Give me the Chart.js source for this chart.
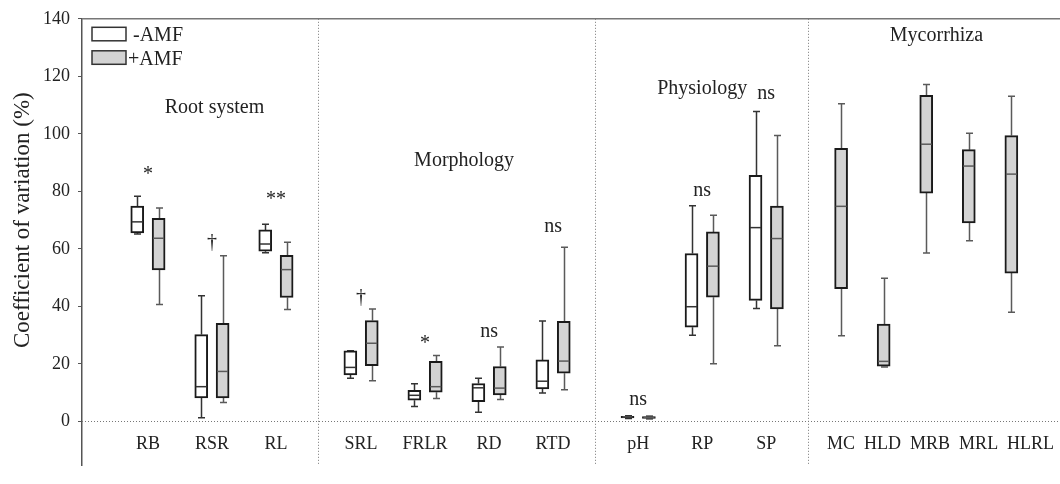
<!DOCTYPE html>
<html><head><meta charset="utf-8">
<script src="https://cdn.jsdelivr.net/npm/chart.js@4.4.1/dist/chart.umd.min.js"></script>
<style>html,body{margin:0;padding:0;background:#fff;}#wrap{width:1060px;height:484px;position:relative;}</style>
</head><body><div id="wrap"><canvas id="c"></canvas></div>
<script>
// ---------- data ----------
const categories = ['RB','RSR','RL','SRL','FRLR','RD','RTD','pH','RP','SP','MC','HLD','MRB','MRL','HLRL'];
const groupNames = ['Root system','Morphology','Physiology','Mycorrhiza'];
const groupSizes = [3,4,3,5];
const groupTitleY = [107.4, 88.8, 114, 132.2];
const seriesNames = ['-AMF','+AMF'];
// -AMF (no values for the mycorrhiza group)
const minusMin = [65.2, 1.3, 58.7, 15.0, 5.2, 3.2, 9.9, 1.0, 30.0, 39.3, null, null, null, null, null];
const minusQ1  = [65.6, 8.2, 59.2, 16.2, 7.4, 6.9, 11.3, 1.2, 32.8, 42.1, null, null, null, null, null];
const minusMed = [69.4, 12.1, 61.7, 18.8, 9.1, 11.7, 14.0, 1.5, 39.9, 67.4, null, null, null, null, null];
const minusQ3  = [74.9, 30.2, 66.6, 24.6, 10.8, 13.2, 21.4, 1.8, 58.4, 85.6, null, null, null, null, null];
const minusMax = [78.3, 43.7, 68.6, 24.6, 13.1, 15.0, 34.9, 2.0, 75.0, 107.8, null, null, null, null, null];
// +AMF
const plusMin = [40.7, 6.6, 38.9, 14.2, 8.0, 7.6, 11.0, 0.9, 20.1, 26.3, 29.8, 18.9, 58.6, 62.8, 38.0];
const plusQ1  = [52.7, 8.2, 43.1, 19.4, 10.2, 9.2, 16.8, 1.1, 43.2, 39.1, 46.2, 19.2, 79.4, 69.0, 51.6];
const plusMed = [63.7, 17.4, 52.8, 27.2, 12.1, 11.6, 21.0, 1.4, 54.0, 63.6, 74.8, 20.9, 96.4, 88.8, 86.0];
const plusQ3  = [70.6, 34.1, 57.8, 35.1, 20.9, 19.1, 34.8, 1.7, 65.9, 74.9, 95.0, 33.9, 113.4, 94.5, 99.4];
const plusMax = [74.2, 57.6, 62.3, 39.1, 22.9, 25.9, 60.6, 1.9, 71.7, 99.4, 110.5, 49.8, 117.2, 100.2, 113.1];
const sigLabels = ['*','†','**','†','*','ns','ns','ns','ns','ns','','','','',''];
const sigY      = [84, 60.3, 75.3, 41.3, 25.3, 29.3, 66, 5.7, 78.3, 112, null, null, null, null, null];
const yTicks = [0,20,40,60,80,100,120,140];
const yTitle = 'Coefficient of variation (%)';

// ---------- layout (computed slot positions) ----------
const STEP = [1,1,1,0.665], LEAD = [1.03,0.68,0.68,0.52], TRAIL = 0.65, END_PAD = 0.76;
const TITLE_SHIFT = [0.04, 0.11, 0.0, 0.16];
const xPos = [], sepPos = [], groupCenter = [];
(function(){
  let last = 0;
  groupSizes.forEach((n,g)=>{
    let start;
    if (g === 0) start = LEAD[0];
    else { const s = last + TRAIL; sepPos.push(s); start = s + LEAD[g]; }
    const ps = [];
    for (let i=0;i<n;i++){ const p = start + i*STEP[g]; xPos.push(p); ps.push(p); }
    last = ps[ps.length-1];
    groupCenter.push((ps[0]+ps[ps.length-1])/2);
  });
  xPos.max = last + END_PAD;
})();
const PAIR_OFF = 0.167;
const hasMinus = i => minusQ1[i] !== null;
const boxX = (i, s) => hasMinus(i) ? xPos[i] + (s===0 ? -PAIR_OFF : PAIR_OFF) : xPos[i];

const FONT = '"Liberation Serif", "Times New Roman", serif';
const GRAY = '#d3d3d3', EDGE = '#1a1a1a';

const minusData = [], plusData = [];
categories.forEach((c,i)=>{
  if (hasMinus(i)) minusData.push({x: boxX(i,0), y:[minusQ1[i], minusQ3[i]]});
  plusData.push({x: boxX(i,1), y:[plusQ1[i], plusQ3[i]]});
});

const stats = [
  {min:minusMin, med:minusMed, q1:minusQ1, q3:minusQ3, max:minusMax, line:'#333'},
  {min:plusMin, med:plusMed, q1:plusQ1, q3:plusQ3, max:plusMax, line:'#5a5a5a'}
];

const boxPlugin = {
  id:'boxExtras',
  beforeDatasetsDraw(chart){
    const {ctx, chartArea:a, scales:{x,y}} = chart;
    ctx.save();
    ctx.strokeStyle = '#777'; ctx.lineWidth = 1; ctx.setLineDash([1,2]);
    const y0 = Math.round(y.getPixelForValue(0))+0.5;
    ctx.beginPath(); ctx.moveTo(a.left, y0); ctx.lineTo(a.right, y0); ctx.stroke();
    sepPos.forEach(s=>{
      const px = Math.round(x.getPixelForValue(s))+0.5;
      ctx.beginPath(); ctx.moveTo(px, a.top); ctx.lineTo(px, a.bottom); ctx.stroke();
    });
    ctx.setLineDash([]);
    ctx.strokeStyle = '#777'; ctx.lineWidth = 1.5;
    ctx.beginPath(); ctx.moveTo(a.left, a.top); ctx.lineTo(a.right, a.top); ctx.stroke();
    stats.forEach((st,s)=>{
      ctx.strokeStyle = st.line; ctx.lineWidth = 1.5;
      categories.forEach((c,i)=>{
        if (st.q1[i] === null) return;
        const px = Math.round(x.getPixelForValue(boxX(i,s)))+0.5;
        const pMax = y.getPixelForValue(st.max[i]), pQ3 = y.getPixelForValue(st.q3[i]);
        const pMin = y.getPixelForValue(st.min[i]), pQ1 = y.getPixelForValue(st.q1[i]);
        ctx.beginPath();
        ctx.moveTo(px, pQ3); ctx.lineTo(px, pMax);
        ctx.moveTo(px-3.5, pMax); ctx.lineTo(px+3.5, pMax);
        ctx.moveTo(px, pQ1); ctx.lineTo(px, pMin);
        ctx.moveTo(px-3.5, pMin); ctx.lineTo(px+3.5, pMin);
        ctx.stroke();
      });
    });
    ctx.restore();
  },
  afterDatasetsDraw(chart){
    const {ctx, chartArea:a, scales:{x,y}} = chart;
    ctx.save();
    stats.forEach((st,s)=>{
      ctx.strokeStyle = st.line; ctx.lineWidth = 1.5;
      categories.forEach((c,i)=>{
        if (st.q1[i] === null) return;
        const px = x.getPixelForValue(boxX(i,s));
        const pm = y.getPixelForValue(st.med[i]);
        ctx.beginPath(); ctx.moveTo(px-5.5, pm); ctx.lineTo(px+5.5, pm); ctx.stroke();
      });
    });
    ctx.fillStyle = '#222'; ctx.textBaseline = 'alphabetic';
    ctx.textAlign = 'center';
    ctx.font = '20px ' + FONT;
    categories.forEach((c,i)=>{
      if (!sigLabels[i]) return;
      ctx.fillText(sigLabels[i], x.getPixelForValue(xPos[i]), y.getPixelForValue(sigY[i]));
    });
    ctx.font = '18px ' + FONT;
    const baseY = y.getPixelForValue(0) + 28;
    const slotPx = g => STEP[g] * (x.getPixelForValue(1) - x.getPixelForValue(0));
    let k = 0;
    groupSizes.forEach((n,g)=>{
      const idx = []; for (let j=0;j<n;j++) idx.push(k+j); k += n;
      const widths = idx.map(i=>ctx.measureText(categories[i]).width);
      const crowded = widths.some(w => w > slotPx(g) - 4);
      if (!crowded) {
        ctx.textAlign = 'center';
        idx.forEach(i=>ctx.fillText(categories[i], x.getPixelForValue(xPos[i]), baseY));
      } else {
        ctx.textAlign = 'left';
        let cx = x.getPixelForValue(xPos[idx[0]]) - widths[0]/2;
        const gap = ctx.measureText('  ').width;
        idx.forEach((i,j)=>{ ctx.fillText(categories[i], cx, baseY); cx += widths[j] + gap; });
      }
    });
    ctx.textAlign = 'center';
    ctx.font = '20px ' + FONT;
    groupNames.forEach((g,j)=>{
      ctx.fillText(g, x.getPixelForValue(groupCenter[j] + TITLE_SHIFT[j]), y.getPixelForValue(groupTitleY[j]));
    });
    ctx.textAlign = 'left';
    const fills = ['#ffffff', GRAY];
    seriesNames.forEach((n,j)=>{
      const top = a.top + 8.5 + j*23.5;
      ctx.fillStyle = fills[j]; ctx.fillRect(a.left+10, top, 34, 13.5);
      ctx.strokeStyle = '#333'; ctx.lineWidth = 1.5; ctx.strokeRect(a.left+10, top, 34, 13.5);
      ctx.fillStyle = '#222'; ctx.font = '20px ' + FONT;
      ctx.fillText(n.startsWith('-') ? ' ' + n : n, a.left+46, top + 14);
    });
    ctx.save();
    ctx.translate(29, y.getPixelForValue(70));
    ctx.rotate(-Math.PI/2);
    ctx.textAlign = 'center'; ctx.font = '23px ' + FONT; ctx.fillStyle = '#222';
    ctx.fillText(yTitle, 0, 0);
    ctx.restore();
    ctx.restore();
  }
};

new Chart(document.getElementById('c'), {
  type:'bar',
  data:{ datasets:[
    {label:seriesNames[0], data:minusData, backgroundColor:'#ffffff', borderColor:EDGE, borderWidth:2, borderSkipped:false, barThickness:13, grouped:false},
    {label:seriesNames[1], data:plusData, backgroundColor:GRAY, borderColor:EDGE, borderWidth:2, borderSkipped:false, barThickness:13, grouped:false}
  ]},
  options:{
    responsive:true, maintainAspectRatio:false, animation:false,
    layout:{padding:{top:15, right:0, bottom:3, left:0}},
    plugins:{legend:{display:false}, tooltip:{enabled:false}},
    scales:{
      x:{type:'linear', display:false, min:0, max:xPos.max, offset:false},
      y:{min:-15.2, max:140,
         afterBuildTicks(s){ s.ticks = yTicks.map(v=>({value:v})); },
         afterFit(s){ s.width = 82; },
         ticks:{font:{family:FONT, size:18}, color:'#222', padding:8},
         grid:{drawOnChartArea:false, drawTicks:true, tickLength:4, color:'#555'},
         border:{display:true, color:'#555', width:1.5}
      }
    }
  },
  plugins:[boxPlugin]
});
</script></body></html>
